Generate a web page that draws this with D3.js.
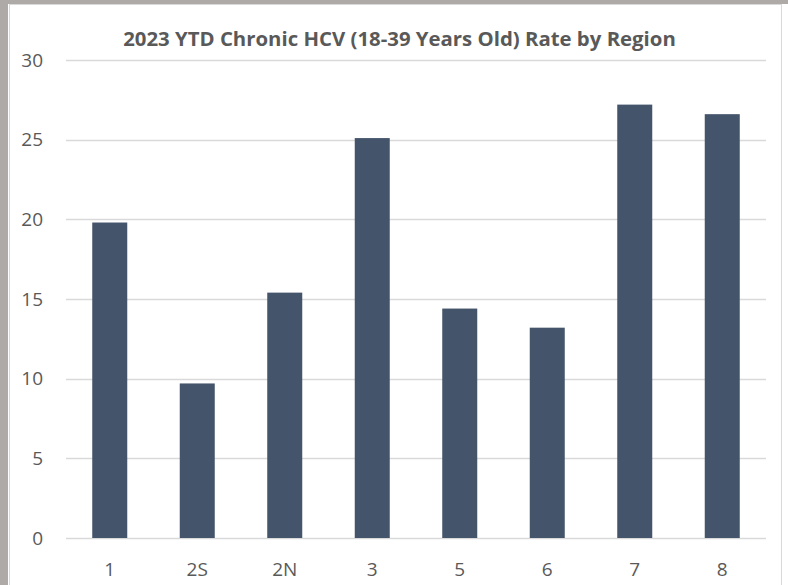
<!DOCTYPE html>
<html>
<head>
<meta charset="utf-8">
<script src="https://cdn.jsdelivr.net/npm/d3@7"></script>
<style>
  html, body { margin: 0; padding: 0; background: #aeaaa7; }
  svg { display: block; }
</style>
</head>
<body>
<svg id="chart" width="788" height="585"></svg>
<script>
const title = "2023 YTD Chronic HCV (18-39 Years Old) Rate by Region";
const regions = ["1", "2S", "2N", "3", "5", "6", "7", "8"];
const rates = [19.8, 9.7, 15.4, 25.1, 14.4, 13.2, 27.2, 26.6];
const yTicks = [0, 5, 10, 15, 20, 25, 30];

const svg = d3.select("#chart");
const W = 788, H = 585;

// chart area (white panel)
svg.append("rect").attr("x", 8).attr("y", 4).attr("width", W - 8).attr("height", H - 4).attr("fill", "#ffffff");
svg.append("line").attr("x1", 9.5).attr("x2", 9.5).attr("y1", 4).attr("y2", H).attr("stroke", "#d9d9d9");
svg.append("line").attr("x1", 9).attr("x2", 781).attr("y1", 4.5).attr("y2", 4.5).attr("stroke", "#d9d9d9");
svg.append("line").attr("x1", 781.5).attr("x2", 781.5).attr("y1", 4).attr("y2", H).attr("stroke", "#d9d9d9");

const m = { left: 66, right: 766, top: 60, bottom: 538 };
const x = d3.scaleBand().domain(regions).range([m.left, m.right]).paddingInner(0.6).paddingOuter(0.3);
const y = d3.scaleLinear().domain([0, 30]).range([m.bottom, m.top]);

const font = "'Open Sans', 'Noto Sans', sans-serif";

// gridlines
svg.append("g").selectAll("line").data(yTicks).join("line")
  .attr("x1", m.left).attr("x2", m.right)
  .attr("y1", d => Math.round(y(d)) + 0.5).attr("y2", d => Math.round(y(d)) + 0.5)
  .attr("stroke", "#d9d9d9").attr("stroke-width", 1.5);

// y axis labels
const yAxis = d3.axisLeft(y).tickValues(yTicks).tickSize(0).tickPadding(0);
const gy = svg.append("g").attr("transform", `translate(43,0)`).call(yAxis);
gy.select(".domain").remove();
gy.selectAll("text").attr("font-family", font).attr("font-size", 19).attr("fill", "#595959");

// bars
svg.append("g").selectAll("rect").data(rates).join("rect")
  .attr("x", (d, i) => x(regions[i]))
  .attr("width", x.bandwidth())
  .attr("y", d => y(d))
  .attr("height", d => y(0) - y(d))
  .attr("fill", "#44546a");

// x axis labels
const xAxis = d3.axisBottom(x).tickSize(0).tickPadding(0);
const gx = svg.append("g").attr("transform", `translate(0,562)`).call(xAxis);
gx.select(".domain").remove();
gx.selectAll("text").attr("font-family", font).attr("font-size", 19).attr("fill", "#595959").attr("dy", "0.71em");

// title
const t = svg.append("text").attr("x", 399.5).attr("y", 46).attr("text-anchor", "middle")
  .attr("font-family", font).attr("font-weight", "bold").attr("font-size", 19)
  .attr("fill", "#595959").text(title);
const len = t.node().getComputedTextLength();
t.attr("font-size", 19 * 553 / len);
</script>
</body>
</html>
